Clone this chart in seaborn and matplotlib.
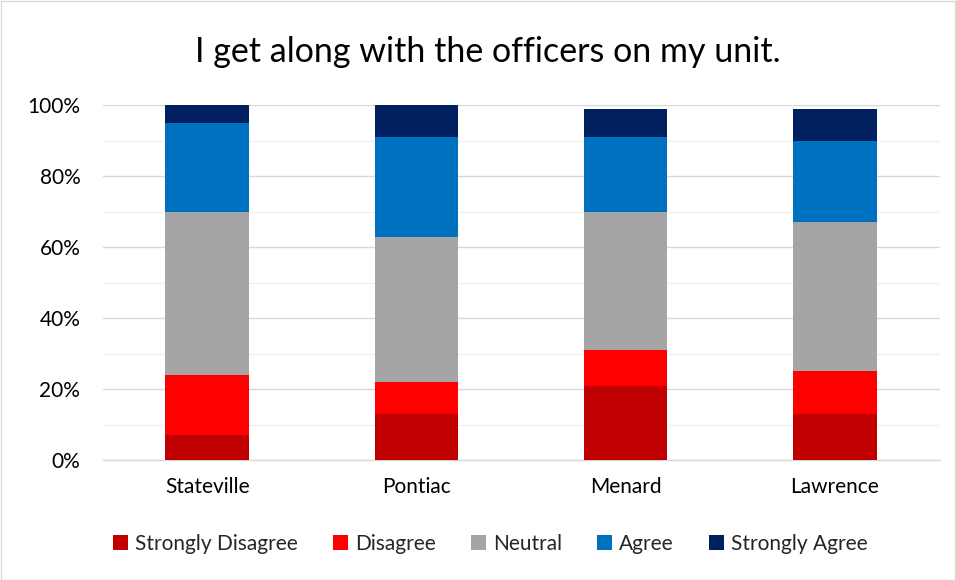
import matplotlib
matplotlib.use("Agg")
import matplotlib.pyplot as plt
import seaborn as sns
import pandas as pd
import numpy as np
from matplotlib.patches import Patch, Rectangle
from matplotlib.ticker import MultipleLocator, PercentFormatter

sites = ["Stateville", "Pontiac", "Menard", "Lawrence"]
series = ["Strongly Disagree", "Disagree", "Neutral", "Agree", "Strongly Agree"]
strongly_disagree = [7, 13, 21, 13]
disagree = [17, 9, 10, 12]
neutral = [46, 41, 39, 42]
agree = [25, 28, 21, 23]
strongly_agree = [5, 9, 8, 9]
colors = ["#C00000", "#FF0000", "#A5A5A5", "#0070C0", "#002060"]

sns.set_theme(style="white")
plt.rcParams["font.family"] = ["Lato", "DejaVu Sans"]

values = [strongly_disagree, disagree, neutral, agree, strongly_agree]
cum = np.cumsum(np.array(values, dtype=float), axis=0)

fig = plt.figure(figsize=(9.56, 5.8), dpi=100)
ax = fig.add_axes([102.5 / 956, 1 - 460 / 580, (939.5 - 102.5) / 956, (460 - 105.3) / 580])

for i in range(len(series) - 1, -1, -1):
    df = pd.DataFrame({"site": sites, "val": cum[i]})
    sns.barplot(data=df, x="site", y="val", color=colors[i], width=0.4,
                linewidth=0, saturation=1, ax=ax, zorder=3)

ax.set_ylim(0, 100)
ax.set_xlim(-0.5, 3.5)
ax.yaxis.set_major_locator(MultipleLocator(20))
ax.yaxis.set_minor_locator(MultipleLocator(10))
ax.yaxis.set_major_formatter(PercentFormatter(decimals=0))
ax.grid(axis="y", which="major", color="#D9D9D9", linewidth=1, zorder=0)
ax.grid(axis="y", which="minor", color="#F0F0F0", linewidth=1, zorder=0)
ax.set_axisbelow(True)
for s in ["top", "right", "left"]:
    ax.spines[s].set_visible(False)
ax.spines["bottom"].set_color("#D9D9D9")
ax.spines["bottom"].set_linewidth(1)
ax.tick_params(axis="both", which="both", length=0, labelsize=15, colors="#000000")
ax.tick_params(axis="y", pad=16)
ax.tick_params(axis="x", pad=12)
ax.set_xlabel("")
ax.set_ylabel("")

fig.text(0.51, 1 - 52 / 580, "I get along with the officers on my unit.",
         ha="center", va="center", fontsize=24.5, color="#000000")

handles = [Patch(facecolor=c, edgecolor="none", label=l) for c, l in zip(colors, series)]
fig.legend(handles=handles, loc="center", bbox_to_anchor=(0.513, 1 - 544 / 580),
           ncol=5, frameon=False, fontsize=15, handlelength=0.7, handleheight=0.7,
           handletextpad=0.35, columnspacing=1.7)

fig.patches.append(Rectangle((0.5 / 956, 0.5 / 580), 1 - 1.5 / 956, 1 - 1.5 / 580,
                             transform=fig.transFigure, fill=False,
                             edgecolor="#D9D9D9", linewidth=1))

fig.savefig("out.png", dpi=100)
